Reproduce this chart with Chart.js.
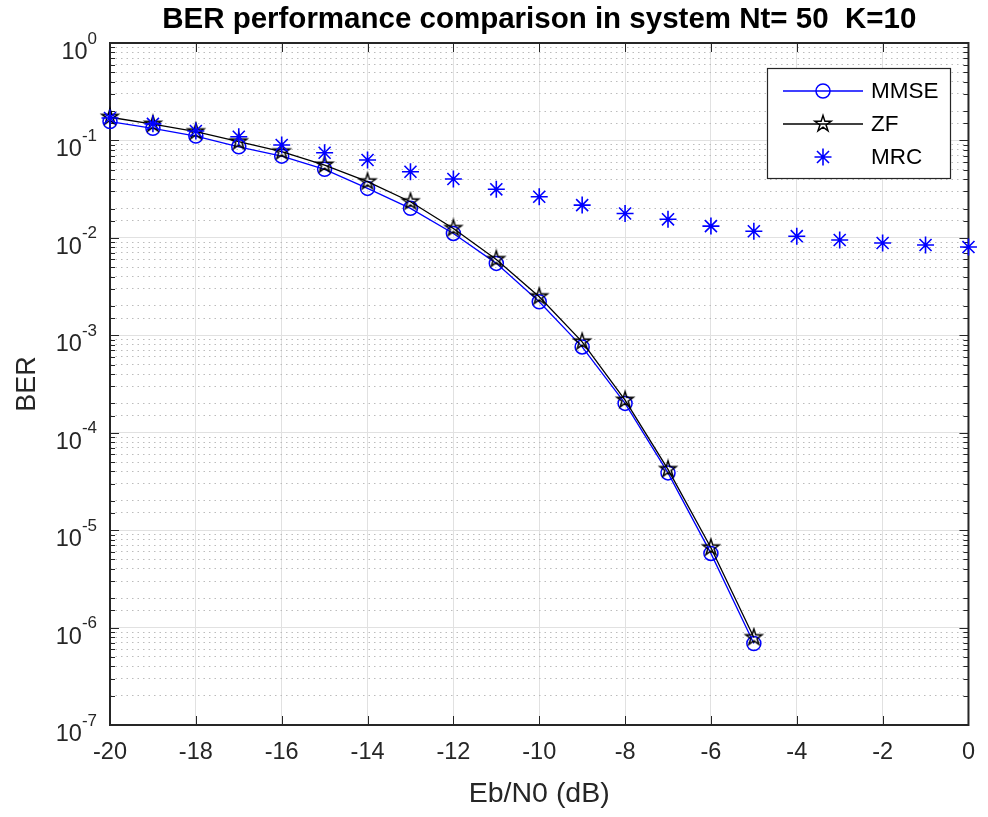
<!DOCTYPE html>
<html>
<head>
<meta charset="utf-8">
<script src="https://cdn.jsdelivr.net/npm/chart.js@4.4.1/dist/chart.umd.min.js"></script>
<style>
  html, body { margin: 0; padding: 0; background: #fff; }
</style>
</head>
<body>
<canvas id="berChart" width="988" height="817"></canvas>
<script>
// Eb/N0 points (dB)
const ebn0 = [-20, -19, -18, -17, -16, -15, -14, -13, -12, -11, -10, -9, -8, -7, -6, -5, -4, -3, -2, -1, 0];

// BER
const mmseBER = [0.156, 0.133, 0.111, 0.0861, 0.069, 0.0505, 0.0322, 0.0201, 0.0111, 0.00547,
                 0.00221, 7.6e-4, 2.0e-4, 3.87e-5, 5.77e-6, 6.87e-7];
const zfBER   = [0.173, 0.147, 0.123, 0.097, 0.0766, 0.0559, 0.0377, 0.0235, 0.0125, 0.00601,
                 0.00249, 8.57e-4, 2.16e-4, 4.2e-5, 6.6e-6, 7.9e-7];
const mrcBER  = [0.170, 0.148, 0.125, 0.109, 0.0897, 0.0748, 0.0629, 0.0477, 0.0402, 0.0315,
                 0.0264, 0.0217, 0.0178, 0.0155, 0.0132, 0.0117, 0.0104, 0.0095, 0.00885, 0.00844, 0.00805];

const seriesNames = ['MMSE', 'ZF', 'MRC'];
const xTicks      = [-20, -18, -16, -14, -12, -10, -8, -6, -4, -2, 0];
const yExponents  = [-7, -6, -5, -4, -3, -2, -1, 0];
const titleText   = 'BER performance comparison in system Nt= 50  K=10';

const FONT  = '"Liberation Sans", Arial, Helvetica, sans-serif';
const AXCOL = '#262626';

const toPoints = vals => vals.map((v, i) => ({ x: ebn0[i], y: v }));
const isDecade = v => { const e = Math.log10(v); return Math.abs(e - Math.round(e)) < 1e-6; };

// MATLAB-style pentagram marker
function makePentagram(R, lw, color) {
  const size = Math.ceil(2 * R + lw * 2 + 2);
  const c = document.createElement('canvas');
  c.width = size; c.height = size;
  const g = c.getContext('2d');
  const cx = size / 2, cy = size / 2, r = R * 0.382;
  g.beginPath();
  for (let k = 0; k < 10; k++) {
    const ang = -Math.PI / 2 + k * Math.PI / 5;
    const rr = k % 2 === 0 ? R : r;
    const px = cx + rr * Math.cos(ang), py = cy + rr * Math.sin(ang);
    k === 0 ? g.moveTo(px, py) : g.lineTo(px, py);
  }
  g.closePath();
  g.lineWidth = lw;
  g.strokeStyle = color;
  g.lineJoin = 'miter';
  g.stroke();
  return c;
}
const pentagram = makePentagram(8.5, 1.5, '#000');

// title centred over the axes, not the canvas
const titlePlugin = {
  id: 'axTitle',
  afterDraw(chart) {
    const { ctx, chartArea: a } = chart;
    ctx.save();
    ctx.font = `bold 29.5px ${FONT}`;
    ctx.fillStyle = '#000';
    ctx.textAlign = 'center';
    ctx.textBaseline = 'alphabetic';
    ctx.fillText(titleText, (a.left + a.right) / 2, 28);
    ctx.restore();
  }
};

// box, inward ticks and 10^n labels
const framePlugin = {
  id: 'frame',
  beforeDatasetsDraw(chart) {
    const { ctx, chartArea: a, scales } = chart;
    const x = scales.x, y = scales.y, y2 = scales.y2;
    ctx.save();
    ctx.strokeStyle = AXCOL;
    ctx.lineWidth = 1;
    const seg = (x1, y1, x2, y2_) => { ctx.beginPath(); ctx.moveTo(x1, y1); ctx.lineTo(x2, y2_); ctx.stroke(); };

    xTicks.forEach(v => {
      const px = Math.round(x.getPixelForValue(v)) + 0.5;
      seg(px, a.bottom, px, a.bottom - 9);
      seg(px, a.top, px, a.top + 9);
    });
    y2.ticks.forEach(t => {
      const py = Math.round(y.getPixelForValue(t.value)) + 0.5;
      const len = isDecade(t.value) ? 9 : 5;
      seg(a.left, py, a.left + len, py);
      seg(a.right, py, a.right - len, py);
    });

    ctx.lineWidth = 2;
    ctx.strokeRect(a.left, a.top, a.right - a.left, a.bottom - a.top);

    // y tick labels with superscript exponents
    ctx.fillStyle = AXCOL;
    ctx.textBaseline = 'alphabetic';
    yExponents.forEach(e => {
      const py = y.getPixelForValue(Math.pow(10, e));
      const expTxt = String(e);
      ctx.font = `17px ${FONT}`;
      const ew = ctx.measureText(expTxt).width;
      ctx.textAlign = 'right';
      ctx.fillText(expTxt, 97, py + 0.5);
      ctx.font = `23.5px ${FONT}`;
      ctx.fillText('10', 97 - ew, py + 16);
    });
    ctx.restore();
  }
};

// legend box like MATLAB's
const legendPlugin = {
  id: 'matLegend',
  afterDraw(chart) {
    const { ctx } = chart;
    const box = { l: 767, t: 68, r: 950, b: 178 };
    const rows = [91, 124, 157];
    ctx.save();
    ctx.fillStyle = '#fff';
    ctx.fillRect(box.l, box.t, box.r - box.l, box.b - box.t);
    ctx.strokeStyle = AXCOL;
    ctx.lineWidth = 1.2;
    ctx.strokeRect(box.l + 0.5, box.t + 0.5, box.r - box.l, box.b - box.t);

    chart.data.datasets.forEach((ds, i) => {
      const yy = rows[i];
      if (ds.showLine !== false) {
        ctx.strokeStyle = ds.borderColor;
        ctx.lineWidth = ds.borderWidth;
        ctx.beginPath(); ctx.moveTo(783, yy); ctx.lineTo(863, yy); ctx.stroke();
      }
      ctx.strokeStyle = ds.pointBorderColor;
      ctx.fillStyle = ds.pointBackgroundColor;
      ctx.lineWidth = ds.pointBorderWidth;
      Chart.helpers.drawPoint(ctx, {
        pointStyle: ds.pointStyle,
        radius: ds.pointRadius,
        borderWidth: ds.pointBorderWidth,
        rotation: 0
      }, 823, yy);
      ctx.fillStyle = '#000';
      ctx.font = `22.5px ${FONT}`;
      ctx.textAlign = 'left';
      ctx.textBaseline = 'middle';
      ctx.fillText(ds.label, 871, yy + 1);
    });
    ctx.restore();
  }
};

new Chart(document.getElementById('berChart'), {
  type: 'line',
  data: {
    datasets: [
      {
        label: seriesNames[0],
        data: toPoints(mmseBER),
        borderColor: '#0000ff',
        borderWidth: 1.3,
        pointStyle: 'circle',
        pointRadius: 7,
        pointBorderWidth: 1.5,
        pointBorderColor: '#0000ff',
        pointBackgroundColor: 'rgba(0,0,0,0)',
        tension: 0,
        clip: false,
        order: 3
      },
      {
        label: seriesNames[1],
        data: toPoints(zfBER),
        borderColor: '#000000',
        borderWidth: 1.3,
        pointStyle: pentagram,
        pointRadius: 8,
        pointBorderWidth: 1.5,
        pointBorderColor: '#000000',
        pointBackgroundColor: 'rgba(0,0,0,0)',
        tension: 0,
        clip: false,
        order: 2
      },
      {
        label: seriesNames[2],
        data: toPoints(mrcBER),
        showLine: false,
        borderColor: '#0000ff',
        borderWidth: 1.3,
        pointStyle: 'star',
        pointRadius: 8.5,
        pointBorderWidth: 1.6,
        pointBorderColor: '#0000ff',
        pointBackgroundColor: '#0000ff',
        clip: false,
        order: 1
      }
    ]
  },
  options: {
    responsive: false,
    animation: false,
    events: [],
    layout: { padding: { top: 43, right: 11, bottom: 0, left: 0 } },
    plugins: {
      legend: { display: false },
      title: { display: false },
      tooltip: { enabled: false }
    },
    scales: {
      x: {
        type: 'linear',
        min: -20,
        max: 0,
        ticks: {
          stepSize: 2,
          autoSkip: false,
          maxRotation: 0,
          padding: 13,
          color: AXCOL,
          font: { size: 23.5, family: FONT }
        },
        grid: { color: '#e1e1e1', lineWidth: 1, drawTicks: false },
        border: { display: false },
        title: {
          display: true,
          text: 'Eb/N0 (dB)',
          color: AXCOL,
          font: { size: 28.5, family: FONT },
          padding: { top: 0, bottom: 6 }
        },
        afterFit: s => { s.height = 92; }
      },
      y: {
        type: 'logarithmic',
        position: 'left',
        min: 1e-7,
        max: 1,
        ticks: { display: false, autoSkip: false },
        grid: {
          drawTicks: false,
          lineWidth: 1,
          color: c => (c.tick && isDecade(c.tick.value)) ? '#e1e1e1' : 'rgba(0,0,0,0)'
        },
        border: { display: false },
        title: {
          display: true,
          text: 'BER',
          color: AXCOL,
          font: { size: 27, family: FONT },
          padding: { top: 11, bottom: 0 }
        },
        afterFit: s => { s.width = 110; }
      },
      y2: {
        type: 'logarithmic',
        position: 'left',
        min: 1e-7,
        max: 1,
        ticks: { display: false, autoSkip: false },
        grid: {
          drawTicks: false,
          lineWidth: 1,
          color: c => (c.tick && isDecade(c.tick.value)) ? 'rgba(0,0,0,0)' : '#bcbcbc'
        },
        border: { display: false, dash: [1.5, 4] },
        afterFit: s => { s.width = 0; }
      }
    }
  },
  plugins: [framePlugin, legendPlugin, titlePlugin]
});
</script>
</body>
</html>
